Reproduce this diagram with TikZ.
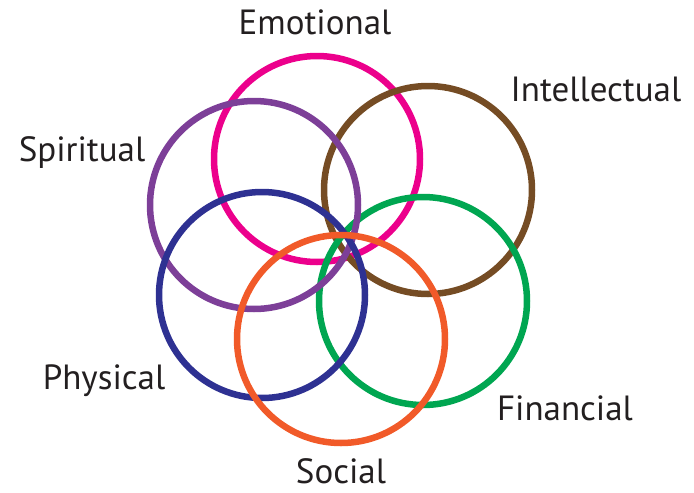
\documentclass[tikz,border=0pt]{standalone}
\usepackage{fontspec}
\setmainfont{PT Sans}
\definecolor{cpink}{HTML}{EC008C}
\definecolor{cbrown}{HTML}{754C24}
\definecolor{cpurple}{HTML}{7D3F98}
\definecolor{cblue}{HTML}{2E3192}
\definecolor{cgreen}{HTML}{00A651}
\definecolor{corange}{HTML}{F15A29}
\definecolor{ctext}{HTML}{231F20}
\begin{document}
\begin{tikzpicture}[x=1pt,y=-1pt,
  ring/.style={line width=6.5pt},
  lbl/.style={font=\fontsize{35}{40}\selectfont, text=ctext, inner sep=0pt}]
\useasboundingbox (0,0) rectangle (694,493);
\coordinate (cE) at (317,159);
\coordinate (cI) at (428,190);
\coordinate (cS) at (254,205);
\coordinate (cP) at (262,295);
\coordinate (cF) at (423,301);
\coordinate (cSo) at (341,339);
\draw[ring, cpink] (cE) circle (103);
\draw[ring, cbrown] (cI) circle (104);
\draw[ring, cgreen] (cF) circle (104);
\draw[ring, cpurple] (cS) circle (104);
\draw[ring, cblue] (cP) circle (103);
\draw[ring, corange] (cSo) circle (104);
\node[lbl] (tE) at (315,22) {Emotional};
\node[lbl] (tI) at (596,89) {Intellectual};
\node[lbl] (tS) at (82,153) {Spiritual};
\node[lbl] (tP) at (104,381) {Physical};
\node[lbl] (tF) at (565,408) {Financial};
\node[lbl] (tSo) at (341,471) {Social};
\end{tikzpicture}
\end{document}
